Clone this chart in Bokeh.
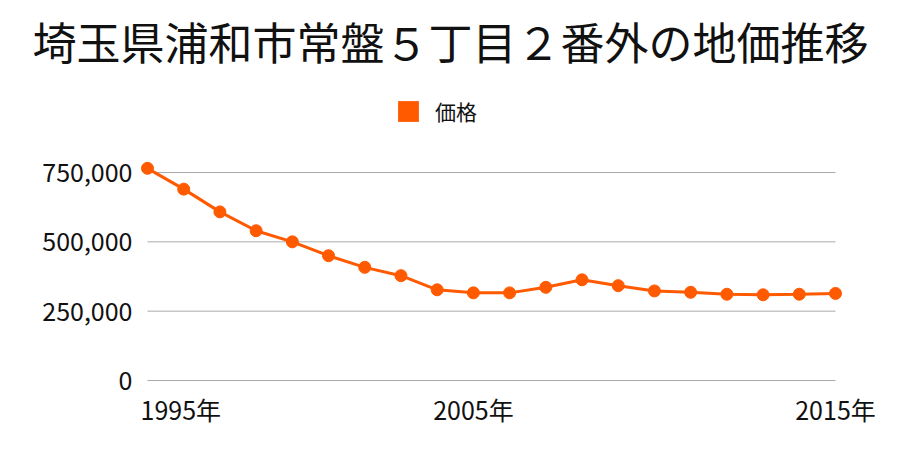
from bokeh.plotting import figure
from bokeh.models import Range1d, FixedTicker, Legend, LegendItem
from bokeh.core.properties import value
from bokeh.embed import file_html
from bokeh.resources import INLINE

# ---- data ----
years = list(range(1996, 2016))
prices = [765000, 690000, 608000, 540000, 500000, 450000, 408000, 378000,
          327000, 316000, 316000, 336000, 363000, 342000, 323000, 318000,
          311000, 309000, 311000, 314000]
y_ticks = [0, 250000, 500000, 750000]
y_tick_labels = ["0", "250,000", "500,000", "750,000"]
x_tick_years = [1995, 2005, 2015]
x_tick_labels = ["1995年", "2005年", "2015年"]
title_text = "埼玉県浦和市常盤５丁目２番外の地価推移"
series_name = "価格"

COLOR = "#ff5a00"
GRID = "#aaaaaa"
FONT = "Noto Sans CJK JP"
TEXT = "#111111"

# ---- layout geometry (pixels) ----
W, H = 900, 450
X_FIRST_PX, X_LAST_PX = 147, 835
Y_ZERO_PX, Y_TOP_TICK_PX = 380, 172
FRAME_L, FRAME_R, FRAME_T, FRAME_B = 135, 900, 75, 450

px_per_year = (X_LAST_PX - X_FIRST_PX) / (years[-1] - years[0])
val_per_px = y_ticks[-1] / (Y_ZERO_PX - Y_TOP_TICK_PX)

def px_x(px):
    return years[0] + (px - X_FIRST_PX) / px_per_year

def px_y(py):
    return (Y_ZERO_PX - py) * val_per_px

p = figure(width=W, height=H, output_backend="svg", toolbar_location=None,
           x_axis_location=None,
           x_range=Range1d(px_x(FRAME_L), px_x(FRAME_R)),
           y_range=Range1d(px_y(FRAME_B), px_y(FRAME_T)),
           min_border_left=FRAME_L, min_border_right=W - FRAME_R,
           min_border_top=FRAME_T, min_border_bottom=H - FRAME_B)
p.outline_line_color = None
p.grid.visible = False
p.background_fill_color = "white"
p.border_fill_color = "white"

# title
p.title.text = title_text
p.title.align = "left"
p.title.offset = 32 - FRAME_L
p.title.text_font = FONT
p.title.text_font_size = "44px"
p.title.text_font_style = "normal"
p.title.text_color = TEXT
p.title.standoff = 5

# grid lines limited to the data span
p.segment(x0=[years[0]] * len(y_ticks), x1=[years[-1]] * len(y_ticks),
          y0=y_ticks, y1=y_ticks, line_color=GRID, line_width=1)

p.line(years, prices, line_color=COLOR, line_width=3)
p.scatter(years, prices, size=12, fill_color=COLOR, line_color=COLOR)

# y axis
p.yaxis.ticker = FixedTicker(ticks=y_ticks)
p.yaxis.major_label_overrides = dict(zip(y_ticks, y_tick_labels))
p.yaxis.axis_line_color = None
p.yaxis.major_tick_line_color = None
p.yaxis.minor_tick_line_color = None
p.yaxis.major_tick_out = 0
p.yaxis.major_tick_in = 0
p.yaxis.major_label_text_font = FONT
p.yaxis.major_label_text_color = TEXT
p.yaxis.major_label_text_font_size = "25px"
p.yaxis.major_label_standoff = 3

# x tick labels (first one is left-aligned at the axis start)
x_label_pos = [years[0]] + x_tick_years[1:]
p.text(x=x_label_pos, y=[y_ticks[0]] * len(x_label_pos), text=x_tick_labels,
       text_align=["left", "center", "center"], x_offset=[-7, 0, 0], y_offset=10,
       text_baseline="top", text_font=value(FONT), text_font_size="25px",
       text_color=TEXT)

# legend (swatch from an invisible, zero-size quad)
swatch = p.quad(left=years[:1], right=years[:1], top=prices[:1], bottom=prices[:1],
                fill_color=COLOR, line_color=None)
swatch.visible = False
legend = Legend(items=[LegendItem(label=series_name, renderers=[swatch])],
                location=(395 - FRAME_L, FRAME_B - 126),
                glyph_width=26, glyph_height=26, label_standoff=14,
                label_text_font=FONT, label_text_font_size="21px",
                label_text_color=TEXT,
                label_height=26, padding=0, margin=0, spacing=0,
                border_line_color=None, background_fill_alpha=0)
p.add_layout(legend)

open("out.html", "w").write(file_html(p, INLINE))
